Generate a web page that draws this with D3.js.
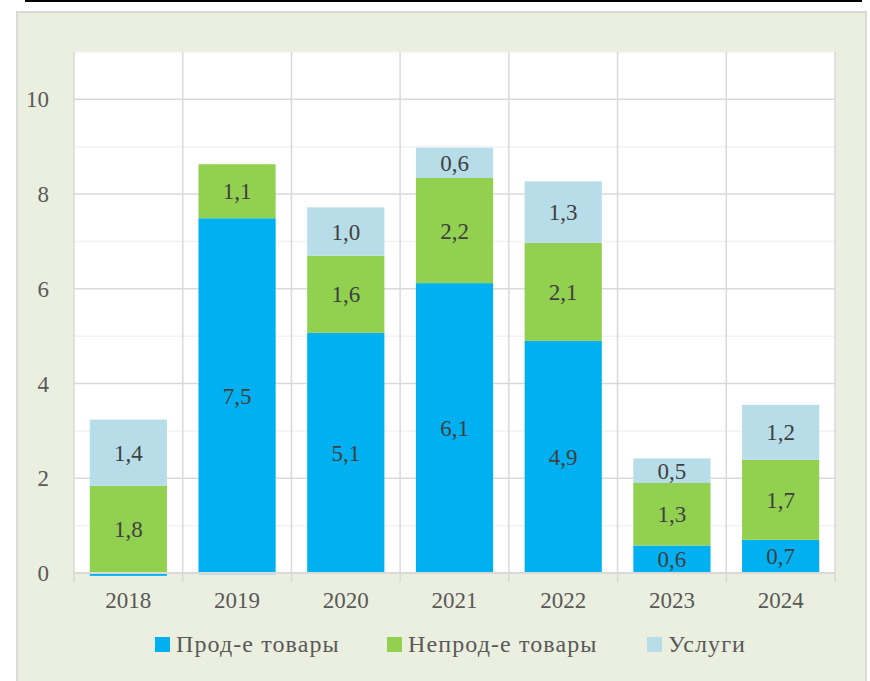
<!DOCTYPE html>
<html>
<head>
<meta charset="utf-8">
<script src="https://cdn.jsdelivr.net/npm/d3@7"></script>
<style>
  body { margin: 0; background: #ffffff; }
  text { font-family: "Palatino Linotype", "Book Antiqua", Palatino, "Liberation Serif", serif; }
</style>
</head>
<body>
<div id="chart"></div>
<script>
// data
const years = ["2018", "2019", "2020", "2021", "2022", "2023", "2024"];
const seriesNames = ["Прод-е товары", "Непрод-е товары", "Услуги"];
const prodGoods = [-0.06, 7.49, 5.07, 6.12, 4.9, 0.58, 0.7];
const nonProdGoods = [1.84, 1.14, 1.63, 2.22, 2.07, 1.32, 1.69];
const services = [1.4, -0.04, 1.02, 0.64, 1.3, 0.52, 1.16];
const yTicks = [0, 2, 4, 6, 8, 10];

const colors = ["#00b0f0", "#92d050", "#b7dde8"];

const width = 870,
    height = 681;

// plot area
const plotLeft = 74, plotRight = 835, plotTop = 52, plotBottom = 573;

const svg = d3.select("#chart")
    .append("svg")
    .attr("width", width)
    .attr("height", height);

// top black rule
svg.append("line")
    .attr("x1", 25).attr("x2", 862)
    .attr("y1", 1).attr("y2", 1)
    .attr("stroke", "#000")
    .attr("stroke-width", 2);

// outer panel
svg.append("rect")
    .attr("x", 17).attr("y", 12)
    .attr("width", 849).attr("height", 690)
    .attr("fill", "#ebefdf")
    .attr("stroke", "#d9d9d9")
    .attr("stroke-width", 2);

// plot area
svg.append("rect")
    .attr("x", plotLeft).attr("y", plotTop)
    .attr("width", plotRight - plotLeft).attr("height", plotBottom - plotTop)
    .attr("fill", "#ffffff");

const x = d3.scaleBand()
    .domain(years)
    .range([plotLeft, plotRight])
    .paddingInner(0.29)
    .paddingOuter(0.145);

const y = d3.scaleLinear()
    .domain([0, 11])
    .range([plotBottom, plotTop]);

// minor gridlines
svg.append("g")
    .selectAll("line")
    .data(d3.range(1, 12, 2))
    .join("line")
    .attr("x1", plotLeft).attr("x2", plotRight)
    .attr("y1", d => y(d)).attr("y2", d => y(d))
    .attr("stroke", "#f2f2f2")
    .attr("stroke-width", 1.5);

// major gridlines
svg.append("g")
    .selectAll("line")
    .data(yTicks.slice(1))
    .join("line")
    .attr("x1", plotLeft).attr("x2", plotRight)
    .attr("y1", d => y(d)).attr("y2", d => y(d))
    .attr("stroke", "#d9d9d9")
    .attr("stroke-width", 1.5);

// vertical gridlines between categories (with tick marks below axis)
const step = x.step();
svg.append("g")
    .selectAll("line")
    .data(d3.range(years.length + 1))
    .join("line")
    .attr("x1", i => plotLeft + i * step).attr("x2", i => plotLeft + i * step)
    .attr("y1", plotTop).attr("y2", plotBottom + 9)
    .attr("stroke", "#d9d9d9")
    .attr("stroke-width", 1.5);

// stacked bars
const table = years.map((yr, i) => ({
    year: yr,
    [seriesNames[0]]: prodGoods[i],
    [seriesNames[1]]: nonProdGoods[i],
    [seriesNames[2]]: services[i]
}));

const stack = d3.stack()
    .keys(seriesNames)
    .offset(d3.stackOffsetDiverging);

const layers = stack(table);

const groups = svg.append("g")
    .selectAll("g")
    .data(layers)
    .join("g")
    .attr("fill", (d, i) => colors[i]);

groups.selectAll("rect")
    .data(d => d)
    .join("rect")
    .attr("x", d => x(d.data.year))
    .attr("width", x.bandwidth())
    .attr("y", d => y(Math.max(d[0], d[1])))
    .attr("height", d => Math.abs(y(d[0]) - y(d[1])));

// x axis line
svg.append("line")
    .attr("x1", plotLeft).attr("x2", plotRight)
    .attr("y1", plotBottom).attr("y2", plotBottom)
    .attr("stroke", "#d9d9d9")
    .attr("stroke-width", 2);

// data labels (tiny negative pieces have none)
groups.each(function (layer) {
    d3.select(this).selectAll("text")
        .data(layer.filter(p => p.data[layer.key] >= 0.1))
        .join("text")
        .attr("x", d => x(d.data.year) + x.bandwidth() / 2)
        .attr("y", d => y((d[0] + d[1]) / 2))
        .attr("dy", "0.35em")
        .attr("text-anchor", "middle")
        .attr("fill", "#404040")
        .style("font-size", "23px")
        .text(d => d3.format(".1f")(d.data[layer.key]).replace(".", ","));
});

// y tick labels
svg.append("g")
    .selectAll("text")
    .data(yTicks)
    .join("text")
    .attr("x", 49)
    .attr("y", d => y(d))
    .attr("dy", "0.35em")
    .attr("text-anchor", "end")
    .attr("fill", "#595959")
    .style("font-size", "23px")
    .text(d => d);

// x tick labels
svg.append("g")
    .selectAll("text")
    .data(years)
    .join("text")
    .attr("x", d => x(d) + x.bandwidth() / 2)
    .attr("y", 600)
    .attr("dy", "0.35em")
    .attr("text-anchor", "middle")
    .attr("fill", "#595959")
    .style("font-size", "23px")
    .text(d => d);

// legend
const legendX = [155, 387, 647];
const legend = svg.append("g")
    .selectAll("g")
    .data(seriesNames)
    .join("g")
    .attr("transform", (d, i) => `translate(${legendX[i]}, 637)`);

legend.append("rect")
    .attr("width", 15)
    .attr("height", 15)
    .attr("fill", (d, i) => colors[i]);

legend.append("text")
    .attr("x", 21)
    .attr("y", 15)
    .attr("fill", "#595959")
    .style("font-size", "24px")
    .style("letter-spacing", "1.1px")
    .text(d => d);
</script>
</body>
</html>
